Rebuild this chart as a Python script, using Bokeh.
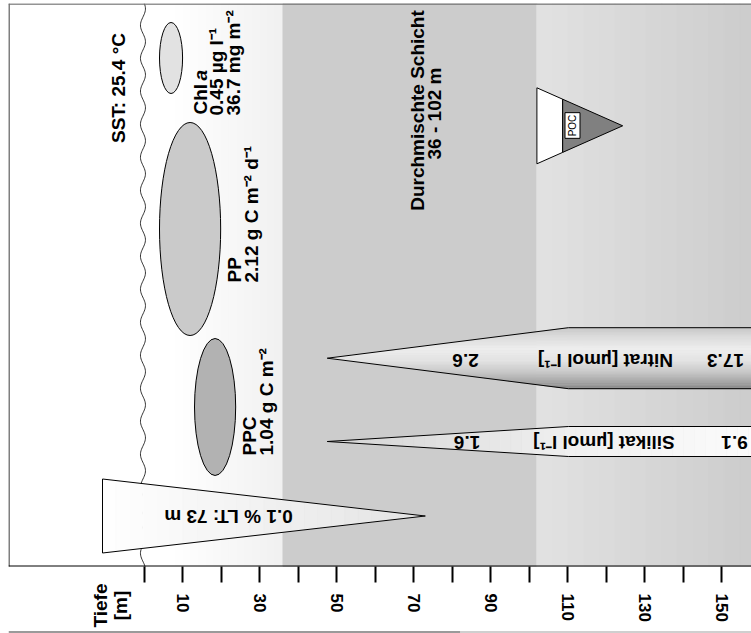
import numpy as np
from bokeh.plotting import figure
from bokeh.models import Range1d, FixedTicker, Label
from bokeh.embed import file_html
from bokeh.resources import INLINE

# ---------------- data (depths in m) ----------------
depth_ticks = [0, 10, 20, 30, 40, 50, 60, 70, 80, 90, 100, 110, 120, 130, 140, 150]
labelled_ticks = [10, 30, 50, 70, 90, 110, 130, 150]
mixed_layer = [36, 102]            # Durchmischte Schicht 36 - 102 m
lt_depth = 73                      # 0.1 % LT: 73 m
chl_depth = [3.9, 9.9]             # Chl a ellipse depth extent
pp_depth = [3.9, 19.8]             # PP ellipse depth extent
ppc_depth = [13.0, 23.7]           # PPC ellipse depth extent
nitrate_depth = [47.5, 110.2]      # tip, full width
silicate_depth = [47.5, 110.2]     # tip, full width
poc_depth = [102, 108.7, 124.3]    # base, split, tip
surface_depth = -0.4

texts_sst = "SST: 25.4 °C"
texts_chl = ["Chl", "a", "0.45 µg l⁻¹", "36.7 mg m⁻²"]
texts_pp = ["PP", "2.12 g C m⁻² d⁻¹"]
texts_ppc = ["PPC", "1.04 g C m⁻²"]
texts_ml = ["Durchmischte Schicht", "36 - 102 m"]
texts_lt = "0.1 % LT: 73 m"
texts_nit = ["2.6", "Nitrat [µmol l⁻¹]", "17.3"]
texts_sil = ["1.6", "Silikat [µmol l⁻¹]", "9.1"]
axis_title = ["Tiefe", "[m]"]

# ---------------- layout ----------------
W, H = 751, 633
X0, SC = 144.0, 3.847            # page x of depth 0, px per m
def D(px):                       # page x -> depth (layout helper)
    return (px - X0) / SC
dleft, dright = D(8), D(W)
Y_TOP, Y_BOT = 3, 566            # top / bottom of the drawing box
FONT = "Liberation Sans"
FS = "19px"

def g(v):
    v = int(round(v))
    return "#%02x%02x%02x" % (v, v, v)

p = figure(width=W, height=H, x_range=Range1d(dleft, dright),
           y_range=Range1d(H, Y_TOP), output_backend="svg",
           toolbar_location=None, y_axis_location=None,
           min_border_left=8, min_border_right=0, min_border_top=Y_TOP,
           min_border_bottom=0)
p.grid.visible = False
p.outline_line_color = None
p.background_fill_color = "white"
p.border_fill_color = "white"

# ---- background bands ----
n = 14
e = np.linspace(8, mixed_layer[0], n + 1)
cols = [g(255 - 15 * (i + 0.5) / n) for i in range(n)]
p.quad(left=e[:-1], right=e[1:], top=Y_TOP, bottom=Y_BOT, fill_color=cols,
       line_color=cols, line_width=1)
p.quad(left=[mixed_layer[0]], right=[mixed_layer[1]], top=Y_TOP, bottom=Y_BOT,
       fill_color="#cccccc", line_color="#cccccc", line_width=1)
e = np.linspace(mixed_layer[1], dright + 1, n + 1)
cols = [g(226 - 22 * (i + 0.5) / n) for i in range(n)]
p.quad(left=e[:-1], right=e[1:], top=Y_TOP, bottom=Y_BOT, fill_color=cols,
       line_color=cols, line_width=1)

# ---- sea surface (wavy line) ----
ys = np.linspace(Y_TOP, Y_BOT, 400)
p.line(surface_depth + 0.65 * np.sin(2 * np.pi * ys / 33.0), ys,
       line_color="black", line_width=0.8)

# ---- ellipses ----
ell = [(chl_depth, 57.5, 71, "#e2e2e2"), (pp_depth, 228.5, 213, "#cacaca"),
       (ppc_depth, 406.5, 137, "#b2b2b2")]
for (d0, d1), yc, h, c in ell:
    p.ellipse(x=[(d0 + d1) / 2], y=[yc], width=[d1 - d0], height=[h],
              fill_color=c, line_color="black", line_width=1)

# ---- light triangle (0.1 % LT) ----
lt_base, lt_yc, lt_hw = D(102), 515.5, 37.0
n = 24
e = np.linspace(lt_base, lt_depth, n + 1)
hw = lt_hw * (lt_depth - e) / (lt_depth - lt_base)
xs_l, ys_l, cols = [], [], []
for i in range(n):
    xs_l.append([e[i], e[i + 1], e[i + 1], e[i]])
    ys_l.append([lt_yc - hw[i], lt_yc - hw[i + 1], lt_yc + hw[i + 1], lt_yc + hw[i]])
    cols.append(g(255 - 28 * (i + 0.5) / n))
p.patches(xs_l, ys_l, fill_color=cols, line_color=cols, line_width=0.6)
p.patch([lt_base, lt_depth, lt_base], [lt_yc - lt_hw, lt_yc, lt_yc + lt_hw],
        fill_color=None, line_color="black", line_width=1)

# ---- nitrate (vertical shading) ----
n_yc, n_hw = 357.7, 30.5
tip, sh = nitrate_depth
end = dright + 2
stops_t = [0.0, 0.15, 0.35, 0.55, 0.75, 0.9, 1.0]
stops_v = [198, 220, 238, 228, 196, 164, 136]
n = 40
e = np.linspace(n_yc - n_hw, n_yc + n_hw, n + 1)
def dl(y, yc, h):
    return tip + (sh - tip) * abs(y - yc) / h
xs_l, ys_l, cols = [], [], []
for i in range(n):
    y0, y1 = e[i], e[i + 1]
    xs_l.append([dl(y0, n_yc, n_hw), end, end, dl(y1, n_yc, n_hw)])
    ys_l.append([y0, y0, y1, y1])
    cols.append(g(np.interp((i + 0.5) / n, stops_t, stops_v)))
p.patches(xs_l, ys_l, fill_color=cols, line_color=cols, line_width=0.5)
p.line([end, sh, tip, sh, end], [n_yc - n_hw, n_yc - n_hw, n_yc, n_yc + n_hw, n_yc + n_hw],
       line_color="black", line_width=1)

# ---- silicate (horizontal shading) ----
s_yc, s_hw = 441.0, 15.0
tip, sh = silicate_depth
n = 40
e = np.linspace(tip, end, n + 1)
hw = s_hw * np.clip((e - tip) / (sh - tip), 0, 1)
xs_l, ys_l, cols = [], [], []
for i in range(n):
    xs_l.append([e[i], e[i + 1], e[i + 1], e[i]])
    ys_l.append([s_yc - hw[i], s_yc - hw[i + 1], s_yc + hw[i + 1], s_yc + hw[i]])
    cols.append(g(np.interp(e[i], [tip, sh, end], [212, 240, 252])))
p.patches(xs_l, ys_l, fill_color=cols, line_color=cols, line_width=0.5)
p.line([end, sh, tip, sh, end], [s_yc - s_hw, s_yc - s_hw, s_yc, s_yc + s_hw, s_yc + s_hw],
       line_color="black", line_width=1)

# ---- POC triangle ----
pb, ps, pt = poc_depth
pyc, phw = 125.3, 38.0
hws = phw * (pt - ps) / (pt - pb)
p.patch([pb, ps, ps, pb], [pyc - phw, pyc - hws, pyc + hws, pyc + phw],
        fill_color="white", line_color="black", line_width=1)
p.patch([ps, pt, ps], [pyc - hws, pyc, pyc + hws],
        fill_color="#808080", line_color="black", line_width=1)

# ---- frame lines ----
p.segment(x0=[dleft + 0.13], x1=[dleft + 0.13], y0=[Y_TOP], y1=[Y_BOT],
          line_color="black", line_width=1)
p.segment(x0=[dleft], x1=[dright], y0=[Y_BOT - 0.5], y1=[Y_BOT - 0.5],
          line_color="black", line_width=1)
p.segment(x0=[dleft], x1=[dright], y0=[Y_TOP + 0.5], y1=[Y_TOP + 0.5],
          line_color="#707070", line_width=1.5)
# top edge of the next panel (cut off in the original)
p.segment(x0=[dleft, D(460)], x1=[D(460), dright], y0=[H - 1.5, H - 1.5],
          y1=[H - 1.5, H - 1.5], line_color=["#9a9a9a", "#cfcfcf"], line_width=2)

# ---- axis (fixed at the bottom of the drawing box) ----
ax = p.xaxis[0]
ax.fixed_location = Y_BOT
ax.ticker = FixedTicker(ticks=depth_ticks)
ax.major_label_overrides = {t: (str(t) if t in labelled_ticks else "") for t in depth_ticks}
ax.axis_line_color = None
ax.major_tick_in = 0
ax.major_tick_out = 16
ax.major_tick_line_width = 2
ax.major_tick_line_color = "black"
ax.minor_tick_line_color = None
ax.major_label_orientation = "vertical"
ax.major_label_standoff = 11
ax.major_label_text_font = FONT
ax.major_label_text_font_style = "bold"
ax.major_label_text_font_size = "17px"
ax.major_label_text_color = "black"

# ---- texts ----
def lab(px, py, text, size=FS, angle=np.pi / 2, align="center",
        style="bold", font=FONT, **kw):
    p.add_layout(Label(x=D(px), y=py, text=text, angle=angle, text_align=align,
                       text_baseline="middle", text_font=font,
                       text_font_style=style, text_font_size=size,
                       text_color="black", **kw))

lab(100, 605, axis_title[0])
lab(119.5, 605, axis_title[1])
lab(118, 87.5, texts_sst)
lab(200, 114, texts_chl[0], align="left")
lab(200, 80, texts_chl[1], align="left", style="bold italic")
lab(216, 115, texts_chl[2], align="left")
lab(233, 115, texts_chl[3], align="left")
lab(234, 282, texts_pp[0], align="left")
lab(251, 282, texts_pp[1], align="left")
lab(248.5, 455, texts_ppc[0], align="left")
lab(266, 455, texts_ppc[1], align="left")
lab(417, 110, texts_ml[0])
lab(433.5, 113, texts_ml[1])
lab(228, 516, texts_lt, angle=np.pi)
for px, t in zip([465, 605, 725], texts_nit):
    lab(px, 360, t, angle=np.pi)
for px, t in zip([466.5, 603.5, 734], texts_sil):
    lab(px, 441.5, t, angle=np.pi)
lab(572, 125, "POC", size="10px", style="normal", font="Liberation Sans",
    background_fill_color="white", border_line_color="black",
    border_line_width=1, padding=2)

open("out.html", "w").write(file_html(p, INLINE))
